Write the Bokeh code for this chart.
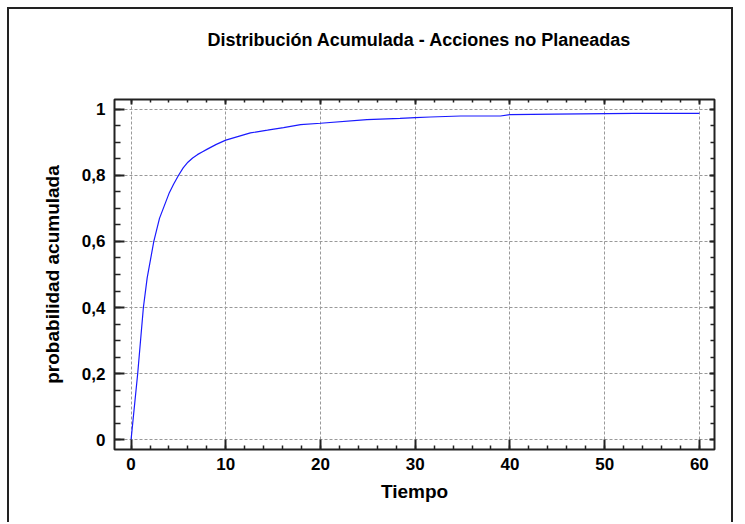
from bokeh.plotting import figure
from bokeh.models import (LinearAxis, SingleIntervalTicker, CustomJSTickFormatter,
                          CustomLabelingPolicy, Title)
from bokeh.embed import file_html
from bokeh.resources import INLINE

# data
tiempo = [0, 0.7, 1.3, 1.7, 2.4, 3, 4, 4.5, 5, 5.5, 6, 6.5, 7, 7.5, 8, 9, 10,
          12.6, 14.4, 16.1, 17.9, 20, 24.9, 28.4, 30, 31.6, 34.8, 39, 40,
          44.7, 53.1, 60]
prob = [0, 0.2, 0.4, 0.49, 0.6, 0.67, 0.745, 0.774, 0.8, 0.823, 0.84, 0.853,
        0.863, 0.871, 0.879, 0.894, 0.907, 0.929, 0.937, 0.945, 0.954, 0.958,
        0.969, 0.973, 0.975, 0.977, 0.980, 0.980, 0.984, 0.986, 0.988, 0.988]

title_text = "Distribución Acumulada - Acciones no Planeadas"
x_label = "Tiempo"
y_label = "probabilidad acumulada"

FONT = "Liberation Sans"

# page offset of the drawing area (outer border drawn with CSS)
OX, OY = 9, 9

p = figure(width=726, height=515, output_backend="svg", toolbar_location=None,
           x_range=(-1.75, 61.6), y_range=(-0.03, 1.03),
           x_axis_location=None, y_axis_location=None,
           min_border_left=114 - OX, min_border_right=726 - (714 - OX),
           min_border_top=99 - OY, min_border_bottom=515 - (449 - OY))
p.margin = (7, 0, 0, 7)
p.styles = {"border-left": "2px solid #222222",
            "border-top": "2px solid #222222",
            "border-right": "2px solid #222222"}
p.background_fill_color = "white"
p.border_fill_color = "white"
p.outline_line_color = "#222222"
p.outline_line_width = 2

xt = SingleIntervalTicker(interval=10, num_minor_ticks=5)
yt = SingleIntervalTicker(interval=0.2, num_minor_ticks=4)

yfmt = CustomJSTickFormatter(code="""
    var s = tick.toFixed(1).replace('.', ',');
    if (s.endsWith(',0')) { s = s.slice(0, -2); }
    return s;
""")

hide_all = CustomLabelingPolicy(code="""
    const a = Array.from(indices);
    for (const i of a) { indices.unset(i); }
    return indices;
""")

def style(ax, tin, min_in, labels=True):
    ax.axis_line_color = None
    ax.major_tick_in = tin
    ax.major_tick_out = 0
    ax.minor_tick_in = min_in
    ax.minor_tick_out = 0
    ax.major_tick_line_width = 2
    ax.minor_tick_line_width = 1.5
    ax.major_tick_line_color = "#222222"
    ax.minor_tick_line_color = "#222222"
    if labels:
        ax.major_label_text_font = FONT
        ax.major_label_text_font_style = "bold"
        ax.major_label_text_font_size = "17px"
        ax.major_label_text_color = "black"
        ax.axis_label_text_font = FONT
        ax.axis_label_text_font_style = "bold"
        ax.axis_label_text_font_size = "19px"
        ax.axis_label_text_color = "black"
    else:
        ax.major_label_policy = hide_all
        ax.major_label_standoff = 0

xb = LinearAxis(ticker=xt, axis_label=x_label)
style(xb, 10, 4)
xb.major_label_standoff = 8
xb.axis_label_standoff = 8
p.add_layout(xb, "below")

yl = LinearAxis(ticker=yt, formatter=yfmt, axis_label=y_label)
style(yl, 10, 6)
yl.major_label_standoff = 9
yl.axis_label_standoff = 16
p.add_layout(yl, "left")

xa = LinearAxis(ticker=xt)
style(xa, 5, 3, labels=False)
xa.major_label_standoff = 34
p.add_layout(xa, "above")

yr = LinearAxis(ticker=yt)
style(yr, 5, 4, labels=False)
p.add_layout(yr, "right")

p.xgrid.ticker = xt
p.ygrid.ticker = yt
p.grid.grid_line_color = "#999999"
p.grid.grid_line_dash = "3 2"
p.grid.grid_line_width = 1

p.line(tiempo, prob, line_color="#1a1aff", line_width=1.2)

t = Title(text=title_text, align="left", text_font=FONT,
          text_font_style="bold", text_font_size="18px", text_color="black",
          standoff=10, offset=93)
p.add_layout(t, "above")

open("out.html", "w").write(file_html(p, INLINE))
